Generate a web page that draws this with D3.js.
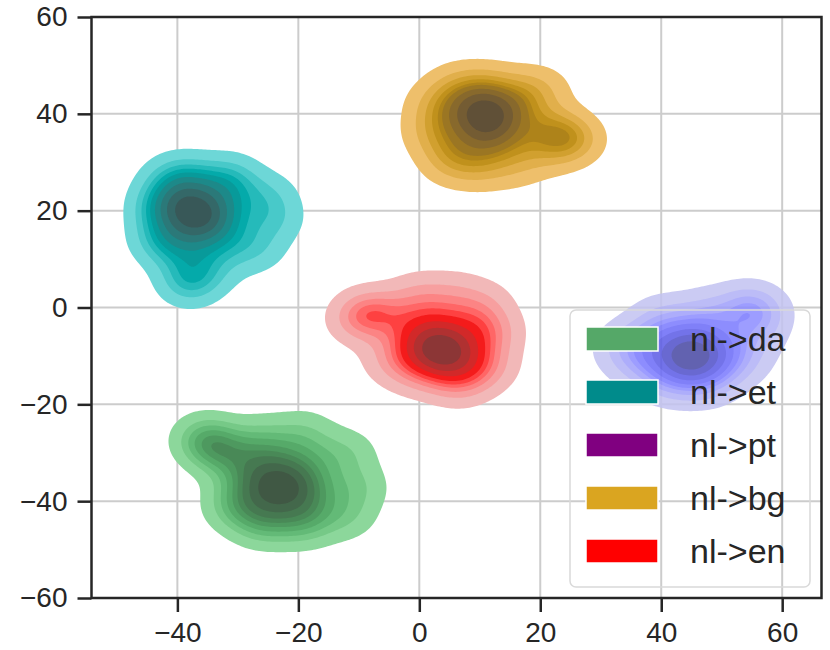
<!DOCTYPE html>
<html><head><meta charset="utf-8">
<script src="https://cdn.jsdelivr.net/npm/d3@7"></script>
<style>
body{margin:0;background:#fff}
svg{display:block}
text{font-family:"Liberation Sans",Arial,sans-serif;fill:#262626}
</style>
</head><body>
<svg id="chart" width="830" height="650"></svg>
<script>
// ---------------- data ----------------
const xTicks = [-40, -20, 0, 20, 40, 60];
const yTicks = [-60, -40, -20, 0, 20, 40, 60];
const labels = ["nl->da", "nl->et", "nl->pt", "nl->bg", "nl->en"];
const legendColors = ["#55a868", "#008b8b", "#800080", "#daa520", "#ff0000"];
const fillColors = ["#55a868", "#008b8b", "#0000ff", "#daa520", "#ff0000"];
const fillAlphas = [1, 1, 0.85, 1, 1];

// estimated sample locations [x, y, weight] per cluster
const daPoints = [
  [-23,-37,2],[-21,-35,1],[-25,-39,1],[-20,-39,1],[-26,-35,1],
  [-29,-37,1],[-17,-37,1],[-23,-31,1],[-23,-43,1],[-27,-32,1],[-18,-32,1],[-18,-42,1],[-28,-42,1],
  [-31,-31,1],[-26,-27,1],[-19,-26,1],[-12,-30,1],[-10,-37,1],[-12,-43,1],[-19,-45,1],[-26,-45,1],[-31,-41,1],
  [-35,-28,1.5],[-33,-29,1],[-36,-26.5,0.6]
];
const etPoints = [
  [-36.5,19,2],[-35,21,1],[-38,17,1],[-34,17,1],[-39.5,21,1],
  [-42,19,1],[-31,20,1],[-37,24,1],[-37,13,1],[-41,24,1],[-32,25,1],[-32,14,1],[-41,13,1],
  [-38,27,1],[-31,27,1],[-25,23,1],[-24,18,1],[-27,12,1],[-43,14,1],[-43,21,1],[-41,27,0.7],
  [-38,7,1],[-38,5,1.2],[-34,8,0.7]
];
const ptPoints = [
  [45,-10,2],[43,-9,1],[47,-11,1],[44,-12,1],[46,-7,1],
  [39,-9,1],[51,-9,1],[45,-5,1],[45,-15,1],[40,-6,1],[50,-6,1],[50,-13,1],[40,-13,1],
  [35,-7,1],[36,-12,0.8],[33,-9,0.6],[40,-2,1],[47,-1,1],[41,-16,0.7],[48,-16,0.7],[54,-11,0.7],
  [55,0,1.4],[56.5,-1.5,1],[52,0,0.7],[56,-6,0.7]
];
const bgPoints = [
  [11,39,2],[13,40,1],[9,38,1],[12,36,1],[10,42,1],
  [5,39,1],[17,39,1],[11,44,1],[11,33,1],[6,43,1],[16,43,1],[16,34,1],[6,33,1],
  [2,36,1],[2,42,0.7],[6,46,0.7],[11,46,0.7],[18,45,0.7],[21,45,0.6],[5,30,1],[10,29,1],[16,29,0.7],
  [22,37,1],[24,35,1.5],[26,34.5,0.8],[21,32,0.7]
];
const enPoints = [
  [3.5,-8.5,2],[5,-7,1],[2,-10,1],[6,-11,1],[1,-6,1],
  [-2,-8,1],[9,-8,1],[4,-2,1],[4,-14,1],[-1,-3,1],[9,-3,1],[9,-13,1],[-1,-13,1],
  [12.5,-5,1],[12,-12,0.7],[7,-16,0.7],[0,2.5,1],[6,3,0.7],[11,1,0.7],[-5,-11,0.7],
  [-9,-1.5,1.5],[-6,-1,1],[-10.5,-3,0.6]
];
const clusters = [daPoints, etPoints, ptPoints, bgPoints, enPoints];
const xDomain = [-54.2, 66.5];
const yDomain = [-60, 60];

// ---------------- layout ----------------
const W = 830, H = 650;
const m = {left: 91.5, right: 8.5, top: 17, bottom: 52};
const pw = W - m.left - m.right, ph = H - m.top - m.bottom;
const bandwidth = 3.5;
const nLevels = 10, thresh = 0.05;

const svg = d3.select("#chart");
const x = d3.scaleLinear().domain(xDomain).range([m.left, m.left + pw]);
const y = d3.scaleLinear().domain(yDomain).range([m.top + ph, m.top]);

// grid
const g = svg.append("g");
g.selectAll("line.gx").data(xTicks).join("line")
  .attr("x1", d => x(d)).attr("x2", d => x(d)).attr("y1", m.top).attr("y2", m.top + ph)
  .attr("stroke", "#cccccc").attr("stroke-width", 2);
g.selectAll("line.gy").data(yTicks).join("line")
  .attr("y1", d => y(d)).attr("y2", d => y(d)).attr("x1", m.left).attr("x2", m.left + pw)
  .attr("stroke", "#cccccc").attr("stroke-width", 2);

// ---------------- HUSL (seaborn light->dark cmap) ----------------
const MM = [[3.240969941904521,-1.537383177570093,-0.498610760293],
            [-0.96924363628087,1.87596750150772,0.041555057407175],
            [0.055630079696993,-0.20397695888897,1.056971514242878]];
const MINV = [[0.41239079926595,0.35758433938387,0.18048078840183],
              [0.21263900587151,0.71516867876775,0.072192315360733],
              [0.019330818715591,0.11919477979462,0.95053215224966]];
const REF_U = 0.19783000664283, REF_V = 0.46831999493879, KAPPA = 903.2962962, EPS = 0.0088564516;
function bounds(L){
  const sub1 = Math.pow(L + 16, 3) / 1560896;
  const sub2 = sub1 > EPS ? sub1 : L / KAPPA;
  const out = [];
  for (const [m1, m2, m3] of MM) for (const t of [0, 1]) {
    const top1 = (284517 * m1 - 94839 * m3) * sub2;
    const top2 = (838422 * m3 + 769860 * m2 + 731718 * m1) * L * sub2 - 769860 * t * L;
    const bottom = (632260 * m3 - 126452 * m2) * sub2 + 126452 * t;
    out.push([top1 / bottom, top2 / bottom]);
  }
  return out;
}
function maxChroma(L, Hh){
  const hr = Hh / 180 * Math.PI; let mn = Infinity;
  for (const [sl, ic] of bounds(L)) {
    const len = ic / (Math.sin(hr) - sl * Math.cos(hr));
    if (len >= 0 && len < mn) mn = len;
  }
  return mn;
}
const toLin = c => c > 0.04045 ? Math.pow((c + 0.055) / 1.055, 2.4) : c / 12.92;
const fromLin = c => c <= 0.0031308 ? 12.92 * c : 1.055 * Math.pow(c, 1 / 2.4) - 0.055;
function rgbToHusl(hex){
  const c = d3.rgb(hex); const rgb = [c.r / 255, c.g / 255, c.b / 255].map(toLin);
  const [X, Y, Z] = MINV.map(r => r[0] * rgb[0] + r[1] * rgb[1] + r[2] * rgb[2]);
  const L = Y <= EPS ? Y * KAPPA : 116 * Math.cbrt(Y) - 16;
  const d = X + 15 * Y + 3 * Z; const vu = 4 * X / d, vv = 9 * Y / d;
  const U = 13 * L * (vu - REF_U), V = 13 * L * (vv - REF_V);
  const C = Math.hypot(U, V); let Hh = Math.atan2(V, U) * 180 / Math.PI; if (Hh < 0) Hh += 360;
  return [Hh, C / maxChroma(L, Hh) * 100, L];
}
function huslToRgb(Hh, S, L){
  const C = maxChroma(L, Hh) / 100 * S;
  const hr = Hh / 180 * Math.PI; const U = Math.cos(hr) * C, V = Math.sin(hr) * C;
  const vu = U / (13 * L) + REF_U, vv = V / (13 * L) + REF_V;
  const Y = L <= 8 ? L / KAPPA : Math.pow((L + 16) / 116, 3);
  const X = 0 - (9 * Y * vu) / ((vu - 4) * vv - vu * vv);
  const Z = (9 * Y - 15 * vv * Y - vv * X) / (3 * vv);
  const rgb = MM.map(r => fromLin(r[0] * X + r[1] * Y + r[2] * Z));
  return d3.rgb(...rgb.map(v => Math.max(0, Math.min(1, v)) * 255));
}
function cmapFromColor(hex){
  const [h, s] = rgbToHusl(hex);
  return t => {
    const k = 255 - Math.round(t * 255);
    const L = 35 + 45 * k / 255;
    const xx = -1 + 2 * k / 293;
    return huslToRgb(h, s * Math.cos(xx), L).formatHex();
  };
}

// ---------------- KDE + contours ----------------
const step = 2;
const nx = Math.ceil(pw / step) + 1, ny = Math.ceil(ph / step) + 1;
const gxData = d3.range(nx).map(i => x.invert(m.left + i * step));
const gyData = d3.range(ny).map(j => y.invert(m.top + j * step));
const gridToX = d3.scaleLinear().domain([0.5, 1.5]).range([gxData[0], gxData[1]]);
const gridToY = d3.scaleLinear().domain([0.5, 1.5]).range([gyData[0], gyData[1]]);
const proj = d3.geoTransform({point(px, py){ this.stream.point(x(gridToX(px)), y(gridToY(py))); }});
const path = d3.geoPath(proj);

svg.append("defs").append("clipPath").attr("id", "plotclip")
  .append("rect").attr("x", m.left).attr("y", m.top).attr("width", pw).attr("height", ph);
const layer = svg.append("g").attr("clip-path", "url(#plotclip)");

clusters.forEach((pts, ci) => {
  const vals = new Float64Array(nx * ny);
  const h2 = 2 * bandwidth * bandwidth;
  for (let j = 0; j < ny; j++) {
    const yy = gyData[j];
    for (let i = 0; i < nx; i++) {
      const xx = gxData[i];
      let s = 0;
      for (const [px, py, w] of pts) {
        const dx = xx - px, dy = yy - py;
        const d2 = dx * dx + dy * dy;
        if (d2 < 600) s += w * Math.exp(-d2 / h2);
      }
      vals[j * nx + i] = s;
    }
  }
  // iso-proportion levels (seaborn style)
  const sorted = Array.from(vals).sort((a, b) => b - a);
  const total = d3.sum(sorted);
  const cum = []; let acc = 0;
  for (const v of sorted) { acc += v; cum.push(acc / total); }
  const isoprops = d3.range(nLevels).map(i => thresh + (1 - thresh) * i / (nLevels - 1));
  const levels = isoprops.map(p => {
    const idx = d3.bisectLeft(cum, 1 - p);
    return sorted[Math.min(idx, sorted.length - 1)];
  }).sort((a, b) => a - b);
  const bandLevels = levels.slice(0, nLevels - 1);
  const cmap = cmapFromColor(fillColors[ci]);
  const contours = d3.contours().size([nx, ny]).thresholds(bandLevels)(vals);
  layer.append("g").attr("opacity", fillAlphas[ci])
    .selectAll("path").data(contours).join("path")
    .attr("d", path)
    .attr("fill", (d, i) => cmap(i / (bandLevels.length - 1)));
});

// ---------------- axes ----------------
const fmt = d3.format("d");
const ax = svg.append("g").attr("transform", `translate(0,${m.top + ph})`)
  .call(d3.axisBottom(x).tickValues(xTicks).tickFormat(fmt).tickSize(14).tickPadding(10));
const ay = svg.append("g").attr("transform", `translate(${m.left},0)`)
  .call(d3.axisLeft(y).tickValues(yTicks).tickFormat(fmt).tickSize(14).tickPadding(10));
[ax, ay].forEach(a => {
  a.select(".domain").remove();
  a.attr("font-size", null).attr("font-family", null);
  a.selectAll(".tick line").attr("stroke", "#262626").attr("stroke-width", 2.5);
  a.selectAll(".tick text").style("font-size", "28px").style("fill", "#262626");
});
svg.append("rect").attr("x", m.left).attr("y", m.top).attr("width", pw).attr("height", ph)
  .attr("fill", "none").attr("stroke", "#262626").attr("stroke-width", 2.5);

// ---------------- legend ----------------
const leg = svg.append("g");
leg.append("rect").attr("x", 570).attr("y", 310).attr("width", 240).attr("height", 277)
  .attr("rx", 6).attr("fill", "none").attr("stroke", "#d9d9d9").attr("stroke-width", 1.5);
const ly = d3.scalePoint().domain(labels).range([339, 551]);
leg.selectAll("rect.patch").data(labels).join("rect").attr("class", "patch")
  .attr("x", 586).attr("y", d => ly(d) - 12).attr("width", 72).attr("height", 24)
  .attr("fill", (d, i) => legendColors[i]).attr("stroke", "#fff").attr("stroke-width", 1.5);
leg.selectAll("text.lbl").data(labels).join("text").attr("class", "lbl")
  .attr("x", 690).attr("y", d => ly(d) + 12)
  .style("font-size", "34px").text(d => d);
</script>
</body></html>
